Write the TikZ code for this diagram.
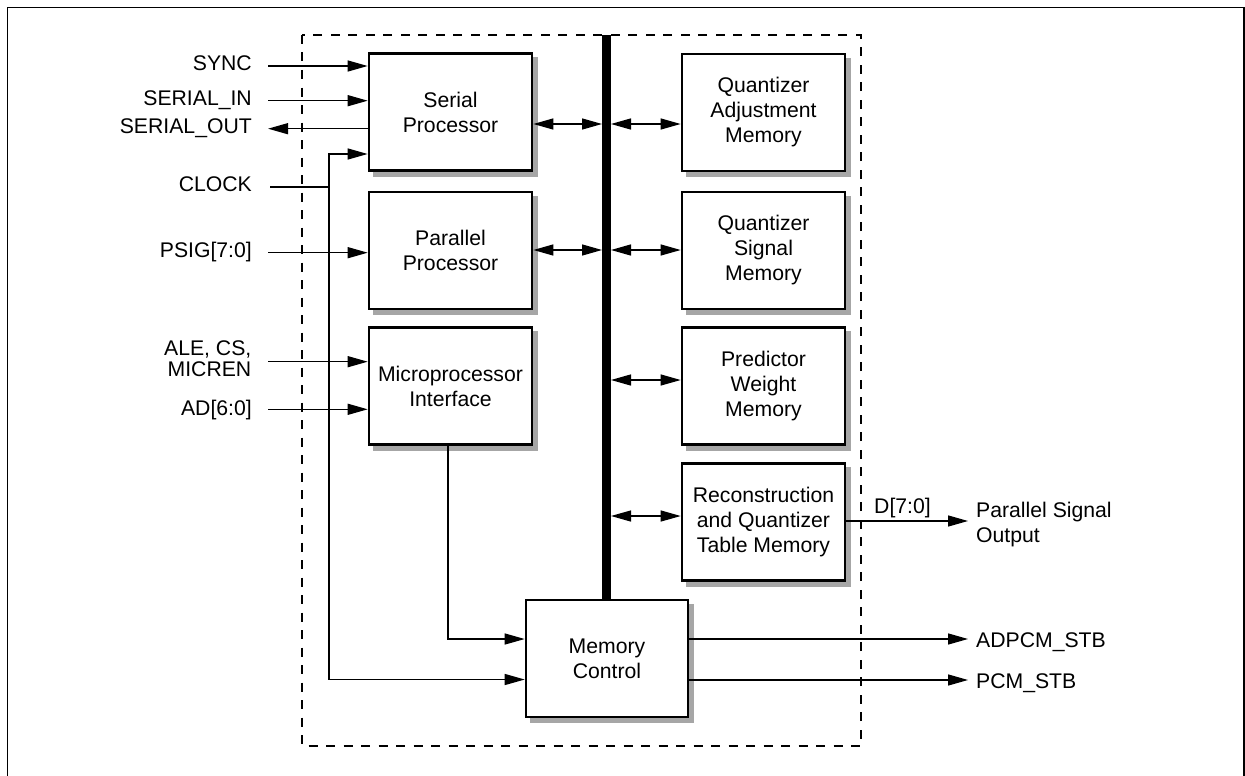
\documentclass[tikz,border=0pt]{standalone}
\usepackage{fontspec}
\setmainfont{Liberation Sans}
\usetikzlibrary{arrows.meta,backgrounds}
\begin{document}
\begin{tikzpicture}[x=1pt,y=-1pt,
  wire/.style={line width=1.3pt},
  arr/.style={wire,-{Triangle[length=20pt,width=11pt]}},
  darr/.style={wire,{Triangle[length=20pt,width=11pt]}-{Triangle[length=20pt,width=11pt]}},
  blk/.style={draw,line width=2.6pt,fill=white,minimum width=163pt,minimum height=117pt,
    inner sep=0pt,align=center,font=\fontsize{21.2}{25}\selectfont},
  shadowfill/.style={fill=black!35},
  lbl/.style={inner sep=0pt,font=\fontsize{21.2}{25}\selectfont},
  dashbox/.style={line width=1.3pt,dash pattern=on 9pt off 8.5pt}
]
\useasboundingbox (0,0) rectangle (1245,776);
% outer frame
\draw[line width=1.6pt] (7.5,776) -- (7.5,7.5) -- (1244,7.5) -- (1244,776);
% dashed chip outline
\draw[dashbox] (302,35) rectangle (861,746);
% bus
\node[fill=black,inner sep=0pt,outer sep=0pt,minimum width=9pt,minimum height=565pt] (bus) at (606.5,317.5) {};
% blocks
\node[blk] (serial) at (450.5,112) {Serial\\Processor};
\node[blk] (par) at (450.5,250.5) {Parallel\\Processor};
\node[blk] (micro) at (450.5,386) {Microprocessor\\Interface};
\node[blk] (qam) at (763.5,112.5) {Quantizer\\Adjustment\\Memory};
\node[blk] (qsm) at (763.5,250.5) {Quantizer\\Signal\\Memory};
\node[blk] (pwm) at (763.5,386) {Predictor\\Weight\\Memory};
\node[blk] (rqt) at (763.5,522) {Reconstruction\\and Quantizer\\Table Memory};
\node[blk,minimum width=162pt] (mem) at (607,658.5) {Memory\\Control};
% shadows
\begin{scope}[on background layer]
\foreach \b in {serial,par,micro,qam,qsm,pwm,rqt,mem}
  \fill[shadowfill] ([shift={(5,5)}]\b.south west) rectangle ([shift={(5,5)}]\b.north east);
\end{scope}
% row coordinates
\coordinate (y124) at (0,124);
\coordinate (y250) at (0,250);
\coordinate (y380) at (0,380);
\coordinate (y516) at (0,516);
\coordinate (y154) at (0,154);
\coordinate (r1) at (0,639);
\coordinate (r2) at (0,679.5);
% bus connections
\draw[darr] (serial.east |- y124) -- (bus.west |- y124);
\draw[darr] (par.east |- y250) -- (bus.west |- y250);
\draw[darr] (bus.east |- y124) -- (qam.west |- y124);
\draw[darr] (bus.east |- y250) -- (qsm.west |- y250);
\draw[darr] (bus.east |- y380) -- (pwm.west |- y380);
\draw[darr] (bus.east |- y516) -- (rqt.west |- y516);
% left labels
\node[lbl,anchor=base east] (sync) at (252,70.5) {SYNC};
\node[lbl,anchor=base east] (sin) at (252,105.3) {SERIAL\_IN};
\node[lbl,anchor=base east] (sout) at (252,133.5) {SERIAL\_OUT};
\node[lbl,anchor=base east] (clock) at (252,191.7) {CLOCK};
\node[lbl,anchor=base east] (psig) at (252,257.5) {PSIG[7:0]};
\node[lbl,anchor=north east,align=right,font=\fontsize{21.2}{21.7}\selectfont] (ale) at (251.5,340) {ALE, CS,\\MICREN};
\node[lbl,anchor=base east] (ad) at (252,415) {AD[6:0]};
% input line starts
\coordinate (syncS) at (268,66);
\coordinate (sinS) at (268,100.7);
\coordinate (soutE) at (268,128.7);
\coordinate (clockS) at (270,187);
\coordinate (psigS) at (268,252.7);
\coordinate (aleS) at (268,361.7);
\coordinate (adS) at (268,409.3);
\coordinate (ck) at (329,187);
% inputs
\draw[arr] (syncS) -- (serial.west |- syncS);
\draw[arr] (sinS) -- (serial.west |- sinS);
\draw[arr] (serial.west |- soutE) -- (soutE);
\draw[wire] (clockS) -- (ck);
\draw[arr] (ck) -- (ck |- y154) -- (serial.west |- y154);
\draw[arr] (ck) -- (ck |- r2) -- (mem.west |- r2);
\draw[arr] (psigS) -- (par.west |- psigS);
\draw[arr] (aleS) -- (micro.west |- aleS);
\draw[arr] (adS) -- (micro.west |- adS);
\draw[arr] ([xshift=-2.5pt]micro.south) -- ([xshift=-2.5pt]micro.south |- r1) -- (mem.west |- r1);
% outputs
\coordinate (dEnd) at (968,521);
\coordinate (aEnd) at (968,639);
\coordinate (pEnd) at (968,680);
\draw[arr] (rqt.east |- dEnd) -- (dEnd);
\draw[arr] (mem.east |- aEnd) -- (aEnd);
\draw[arr] (mem.east |- pEnd) -- (pEnd);
\node[lbl,anchor=base west] (dlbl) at (874,513) {D[7:0]};
\node[lbl,anchor=north west,align=left] (pso) at (976,501.5) {Parallel Signal\\Output};
\node[lbl,anchor=base west] (adpcm) at (976,647.5) {ADPCM\_STB};
\node[lbl,anchor=base west] (pcm) at (976,688) {PCM\_STB};
\end{tikzpicture}
\end{document}
